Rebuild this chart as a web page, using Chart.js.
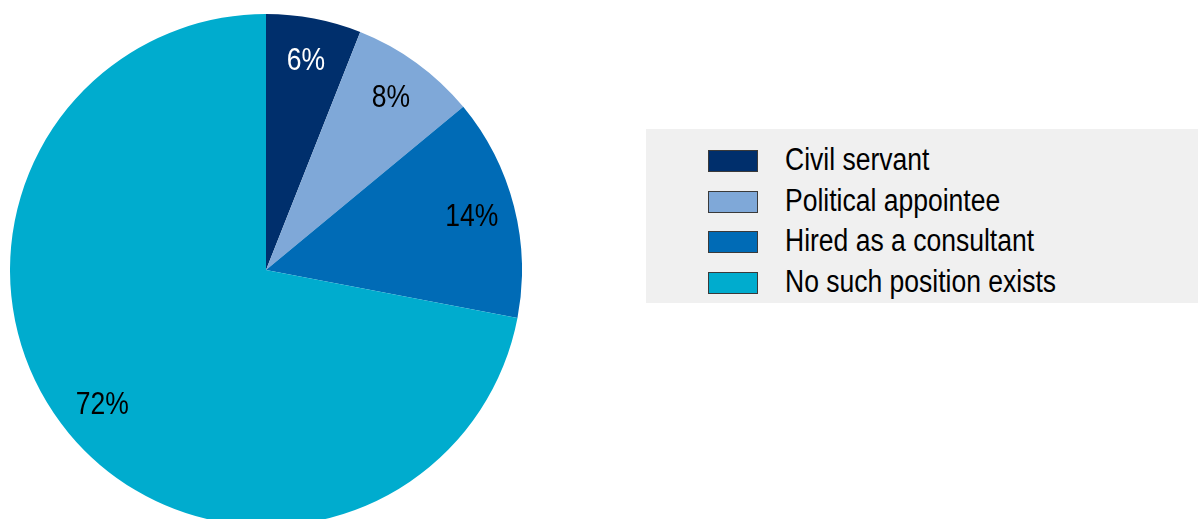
<!DOCTYPE html>
<html>
<head>
<meta charset="utf-8">
<script src="https://cdn.jsdelivr.net/npm/chart.js@4.4.1/dist/chart.umd.min.js"></script>
<style>
  html, body { margin: 0; padding: 0; width: 1198px; height: 519px; overflow: hidden; background: #fff; }
  #pieWrap { position: absolute; left: 10px; top: 14px; width: 512px; height: 512px; }
  #legend {
    position: absolute; left: 646px; top: 129px; width: 552px; height: 174px;
    background: #f0f0f0; font-family: "Liberation Sans", Arial, sans-serif;
    font-size: 31px; color: #000;
  }
  .row { position: absolute; left: 62px; height: 40px; width: 480px; }
  .swatch { position: absolute; left: 0; top: 10px; width: 48px; height: 20px; border: 1px solid #3a3a3a; }
  .txt { position: absolute; left: 77px; top: 0; line-height: 40px; white-space: nowrap;
         transform: scaleX(0.855); transform-origin: left center; }
</style>
</head>
<body>
<div id="pieWrap"><canvas id="pieChart"></canvas></div>
<div id="legend"></div>
<script>
// Data
var categories = ["Civil servant", "Political appointee", "Hired as a consultant", "No such position exists"];
var shares = [6, 8, 14, 72];
var sliceColors = ["#002f6c", "#7fa8d8", "#006bb6", "#00acce"];
var labelColors = ["#ffffff", "#000000", "#000000", "#000000"];

// Draw the percentage labels inside each slice (narrowed Liberation Sans)
var sliceLabels = {
  id: "sliceLabels",
  afterDatasetsDraw: function (chart) {
    var ctx = chart.ctx;
    var meta = chart.getDatasetMeta(0);
    meta.data.forEach(function (arc, i) {
      var p = arc.getProps(["x", "y", "startAngle", "endAngle", "outerRadius"], true);
      var mid = (p.startAngle + p.endAngle) / 2;
      var r = p.outerRadius * 0.83;
      ctx.save();
      ctx.translate(p.x + Math.cos(mid) * r, p.y + Math.sin(mid) * r);
      ctx.scale(0.855, 1);
      ctx.font = "31px 'Liberation Sans', Arial, sans-serif";
      ctx.textAlign = "center";
      ctx.textBaseline = "middle";
      ctx.fillStyle = labelColors[i];
      ctx.fillText(shares[i] + "%", 0, 0);
      ctx.restore();
    });
  }
};

var pieChart = new Chart(document.getElementById("pieChart").getContext("2d"), {
  type: "pie",
  data: {
    labels: categories,
    datasets: [
      {
        data: shares,
        backgroundColor: sliceColors,
        borderWidth: 0,
      },
    ],
  },
  options: {
    responsive: true,
    maintainAspectRatio: false,
    animation: false,
    layout: { padding: 0 },
    plugins: {
      legend: { display: false },
      tooltip: { enabled: false },
    },
  },
  plugins: [sliceLabels],
});

// Legend box on the right
var legend = document.getElementById("legend");
categories.forEach(function (name, i) {
  var row = document.createElement("div");
  row.className = "row";
  row.style.top = (11 + i * 40.7) + "px";
  var sw = document.createElement("div");
  sw.className = "swatch";
  sw.style.background = sliceColors[i];
  var txt = document.createElement("span");
  txt.className = "txt";
  txt.textContent = name;
  row.appendChild(sw);
  row.appendChild(txt);
  legend.appendChild(row);
});
</script>
</body>
</html>
